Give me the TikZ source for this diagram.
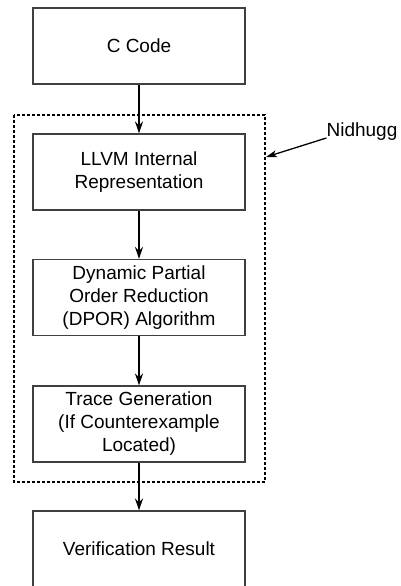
\documentclass[tikz,border=0pt]{standalone}
\usepackage{fontspec}
\setmainfont{Liberation Sans}
\usetikzlibrary{arrows.meta}

\begin{document}
\begin{tikzpicture}[x=1pt,y=-1pt,
  blok/.style={draw=black!75,line width=1.1pt,minimum width=212pt,minimum height=76pt,
    inner sep=0pt,align=center,font=\fontsize{19}{23}\selectfont},
  arr/.style={line width=1.6pt,-{Stealth[length=12pt,width=8pt,inset=4pt]}}]
  \useasboundingbox (0,0) rectangle (401,586);
  \clip (0,0) rectangle (401,586);
  \draw[line width=1.3pt,dash pattern=on 3pt off 2pt] (14,115) rectangle (265,482);
  \node[blok] (ccode) at (139,46) {C Code};
  \node[blok] (llvm) at (139,172) {LLVM Internal\\Representation};
  \node[blok] (dpor) at (139,297.5) {Dynamic Partial\\Order Reduction\\(DPOR) Algorithm};
  \node[blok] (trace) at (139,424) {Trace Generation\\(If Counterexample\\Located)};
  \node[blok] (result) at (139,549) {Verification Result};
  \foreach \a/\b in {ccode/llvm,llvm/dpor,dpor/trace,trace/result}
    \draw[arr] (\a) -- (\b);
  \node[font=\fontsize{19}{23}\selectfont,inner sep=0pt] (nid) at (362,132) {Nidhugg};
  \coordinate (tip) at (266,157);
  \draw[line width=1.3pt,-{Stealth[length=11pt,width=7pt,inset=3pt]}] ([yshift=-6pt]nid.west) -- (tip);
\end{tikzpicture}
\end{document}
